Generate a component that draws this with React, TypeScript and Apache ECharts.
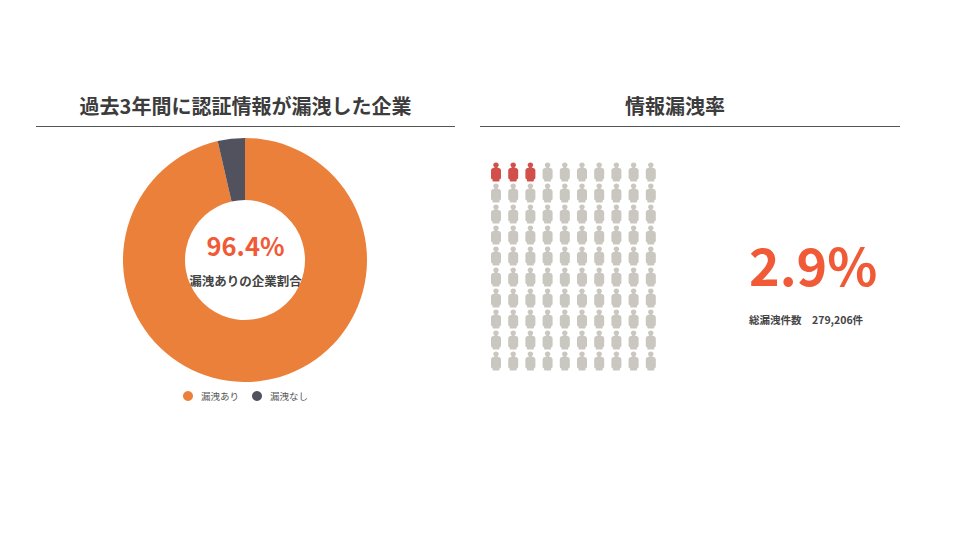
import React, { useEffect, useRef } from "react";
import * as echarts from "echarts";

const FONT = '"Noto Sans CJK JP", "Noto Sans", sans-serif';
const leftTitle = "過去3年間に認証情報が漏洩した企業";
const rightTitle = "情報漏洩率";
const sliceNames = ["漏洩あり", "漏洩なし"];
const sliceValues = [96.4, 3.6];
const sliceColors = ["#EA803A", "#52525E"];
const donutValue = "96.4%";
const donutCaption = "漏洩ありの企業割合";
const rateValue = "2.9%";
const rateCaption = "総漏洩件数　279,206件";
const columns = [1, 2, 3, 4, 5, 6, 7, 8, 9, 10];
const rows = [1, 2, 3, 4, 5, 6, 7, 8, 9, 10];
const leakedInFirstRow = [1, 2, 3];

const PERSON =
  "path://M50 0C37 0 28 9 28 20C28 28 33 34 39 37L39 40C22 43 10 50 10 64L10 118C10 128 16 132 22 133L22 142C22 147 26 150 31 150L69 150C74 150 78 147 78 142L78 133C84 132 90 128 90 118L90 64C90 50 78 43 61 40L61 37C67 34 72 28 72 20C72 9 63 0 50 0Z";

const leaked: number[][] = leakedInFirstRow.map((c) => [c, 1]);
const safe: number[][] = [];
rows.forEach((r) =>
  columns.forEach((c) => {
    if (!(r === 1 && leakedInFirstRow.includes(c))) safe.push([c, r]);
  })
);

export default function App() {
  const ref = useRef<HTMLDivElement>(null);
  useEffect(() => {
    const chart = echarts.init(ref.current!, undefined, { renderer: "svg" });
    const person = {
      type: "scatter" as const,
      xAxisIndex: 0,
      yAxisIndex: 0,
      symbol: PERSON,
      symbolSize: [10, 19],
      silent: true,
    };
    chart.setOption({
      animation: false,
      backgroundColor: "#ffffff",
      legend: {
        data: sliceNames,
        left: 178,
        top: 386,
        icon: "circle",
        itemWidth: 10,
        itemHeight: 10,
        itemGap: 13,
        textStyle: { fontFamily: FONT, fontSize: 9.5, color: "#555555", padding: [0, 0, 0, 3] },
      },
      grid: { left: 487.4, top: 161.5, width: 172, height: 210 },
      xAxis: { type: "value", min: 0.5, max: 10.5, show: false },
      yAxis: { type: "value", min: 0.5, max: 10.5, inverse: true, show: false },
      series: [
        {
          type: "pie",
          center: [245, 260],
          radius: [60, 122],
          startAngle: 90,
          label: { show: false },
          labelLine: { show: false },
          silent: true,
          data: sliceNames.map((name, i) => ({
            name,
            value: sliceValues[i],
            itemStyle: { color: sliceColors[i] },
          })),
        },
        { ...person, name: "safe", data: safe, itemStyle: { color: "#C9C7BF", opacity: 1 } },
        { ...person, name: "leaked", data: leaked, itemStyle: { color: "#D2504C", opacity: 1 } },
      ],
      graphic: [
        { type: "line", shape: { x1: 36, y1: 126.5, x2: 455, y2: 126.5 }, style: { stroke: "#555555", lineWidth: 1 } },
        { type: "line", shape: { x1: 480, y1: 126.5, x2: 900, y2: 126.5 }, style: { stroke: "#555555", lineWidth: 1 } },
        { type: "text", x: 245.5, y: 105, style: { text: leftTitle, font: `700 20px ${FONT}`, fill: "#3C3C3C", textAlign: "center", textVerticalAlign: "middle" } },
        { type: "text", x: 675, y: 105, style: { text: rightTitle, font: `700 20px ${FONT}`, fill: "#3C3C3C", textAlign: "center", textVerticalAlign: "middle" } },
        { type: "text", x: 245.5, y: 244.5, style: { text: donutValue, font: `700 25.5px ${FONT}`, fill: "#F05A36", textAlign: "center", textVerticalAlign: "middle" } },
        { type: "text", x: 245.5, y: 280, style: { text: donutCaption, font: `700 12.5px ${FONT}`, fill: "#444444", textAlign: "center", textVerticalAlign: "middle" } },
        { type: "text", x: 749, y: 263, style: { text: rateValue, font: `700 52px ${FONT}`, fill: "#F05A36", textAlign: "left", textVerticalAlign: "middle" } },
        { type: "text", x: 749, y: 319, style: { text: rateCaption, font: `700 10.5px ${FONT}`, fill: "#444444", textAlign: "left", textVerticalAlign: "middle" } },
      ],
    });
    return () => chart.dispose();
  }, []);
  return (
    <div style={{ position: "fixed", left: 0, top: 0, width: 960, height: 540, background: "#fff" }}>
      <div ref={ref} style={{ width: 960, height: 540 }} />
    </div>
  );
}
